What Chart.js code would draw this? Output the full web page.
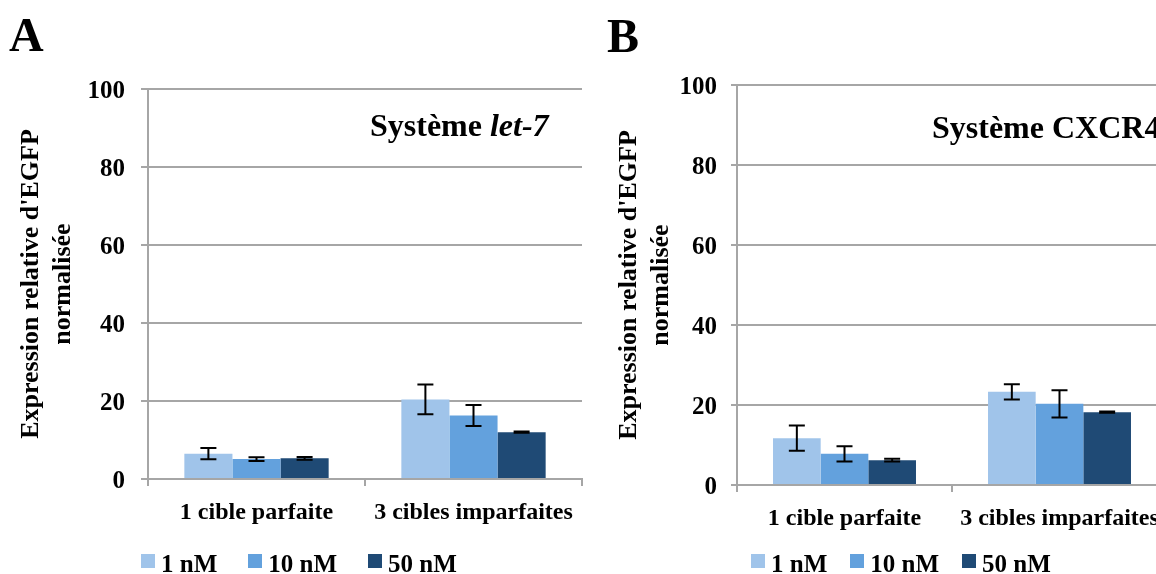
<!DOCTYPE html>
<html>
<head>
<meta charset="utf-8">
<script src="https://cdn.jsdelivr.net/npm/chart.js@4/dist/chart.umd.min.js"></script>
<style>
  html, body { margin: 0; padding: 0; background: #fff; }
  body { width: 1156px; height: 574px; overflow: hidden; position: relative; font-family: 'Liberation Serif', 'Times New Roman', serif; font-weight: bold; color: #000; }
  canvas { position: absolute; top: 0; }
  .panel { position: absolute; font-size: 48px; line-height: 48px; }
  .note { position: absolute; font-size: 32px; line-height: 32px; white-space: nowrap; }
  .legend { position: absolute; top: 551px; display: flex; align-items: flex-start; font-size: 25px; line-height: 25px; white-space: nowrap; }
  .legend .box { width: 14px; height: 14px; margin-top: 3px; }
  .legend .txt { margin-left: 6px; }
</style>
</head>
<body>
<canvas id="chartA" width="604" height="574" style="left:0px;width:604px;height:574px"></canvas>
<canvas id="chartB" width="626" height="574" style="left:590px;width:626px;height:574px"></canvas>
<div class="panel" style="left:9px;top:11px">A</div>
<div class="panel" style="left:607px;top:12px">B</div>
<div class="note" style="left:370px;top:109px">Système <i>let-7</i></div>
<div class="note" style="left:932px;top:111px">Système CXCR4</div>
<div class="legend" id="legendA" style="left:141px"></div>
<div class="legend" id="legendB" style="left:751px"></div>
<script>
// ---- data ----
const categories = ['1 cible parfaite', '3 cibles imparfaites'];
const seriesLabels = ['1 nM', '10 nM', '50 nM'];
const seriesColors = ['#A0C4EA', '#63A1DD', '#1F4A75'];
const yTicks = [0, 20, 40, 60, 80, 100];
const yTitle = ["Expression relative d'EGFP", 'normalisée'];

// Panel A : Système let-7
const a1nM = [6.5, 20.4];
const a1nMErr = [1.45, 3.8];
const a10nM = [5.1, 16.3];
const a10nMErr = [0.5, 2.7];
const a50nM = [5.3, 12.0];
const a50nMErr = [0.35, 0.15];

// Panel B : Système CXCR4
const b1nM = [11.7, 23.3];
const b1nMErr = [3.15, 1.9];
const b10nM = [7.8, 20.3];
const b10nMErr = [1.9, 3.4];
const b50nM = [6.2, 18.2];
const b50nMErr = [0.35, 0.15];

const FONT = "'Liberation Serif', 'Times New Roman', serif";
const GRID = '#a6a6a6';

const errorBars = {
  id: 'errorBars',
  afterDatasetsDraw(chart) {
    const ctx = chart.ctx;
    const y = chart.scales.y;
    ctx.save();
    ctx.strokeStyle = '#000';
    ctx.lineWidth = 2;
    chart.data.datasets.forEach((ds, i) => {
      const meta = chart.getDatasetMeta(i);
      meta.data.forEach((bar, j) => {
        const v = ds.data[j], e = ds.errors[j];
        const yt = y.getPixelForValue(v + e);
        const yb = y.getPixelForValue(v - e);
        const x = bar.x;
        ctx.beginPath();
        ctx.moveTo(x, yt); ctx.lineTo(x, yb);
        ctx.moveTo(x - 8, yt); ctx.lineTo(x + 8, yt);
        ctx.moveTo(x - 8, yb); ctx.lineTo(x + 8, yb);
        ctx.stroke();
      });
    });
    ctx.restore();
  }
};

function makeChart(id, vals, errs, geo) {
  const datasets = seriesLabels.map((lab, i) => ({
    label: lab,
    data: vals[i],
    errors: errs[i],
    backgroundColor: seriesColors[i],
    borderWidth: 0,
    barPercentage: 1.0,
    categoryPercentage: 0.665
  }));
  return new Chart(document.getElementById(id), {
    type: 'bar',
    data: { labels: categories, datasets },
    plugins: [errorBars],
    options: {
      responsive: false,
      animation: false,
      devicePixelRatio: 1,
      layout: { padding: { top: geo.top, right: geo.right, bottom: 0, left: 0 } },
      plugins: { legend: { display: false }, tooltip: { enabled: false } },
      scales: {
        x: {
          grid: { drawOnChartArea: false, drawTicks: true, tickLength: 7, color: GRID, lineWidth: 2, offset: true },
          border: { display: true, color: GRID, width: 2 },
          ticks: { color: '#000', font: { family: FONT, size: 24, weight: 'bold' }, padding: geo.xPad, maxRotation: 0, autoSkip: false },
          afterFit: (s) => { s.height = geo.xHeight; }
        },
        y: {
          min: 0, max: 100,
          afterBuildTicks: (s) => { s.ticks = yTicks.map(v => ({ value: v })); },
          grid: { color: GRID, lineWidth: 2, drawTicks: true, tickLength: geo.tick },
          border: { display: true, color: GRID, width: 2 },
          ticks: { color: '#000', font: { family: FONT, size: 25, weight: 'bold' }, padding: geo.yPad, labelOffset: 3 },
          title: {
            display: true, text: yTitle, color: '#000',
            font: { family: FONT, size: 26, weight: 'bold', lineHeight: 1.25 },
            padding: { top: geo.titlePad, bottom: 0 }
          },
          afterFit: (s) => { s.width = geo.yWidth; }
        }
      }
    }
  });
}

makeChart('chartA', [a1nM, a10nM, a50nM], [a1nMErr, a10nMErr, a50nMErr],
  { top: 89, right: 22, xHeight: 95, yWidth: 148, tick: 7, yPad: 16, titlePad: 15, xPad: 12 });
makeChart('chartB', [b1nM, b10nM, b50nM], [b1nMErr, b10nMErr, b50nMErr],
  { top: 85, right: 49, xHeight: 89, yWidth: 147, tick: 6, yPad: 14, titlePad: 23, xPad: 12 });

function buildLegend(id, gap) {
  const el = document.getElementById(id);
  seriesLabels.forEach((lab, i) => {
    const box = document.createElement('span');
    box.className = 'box';
    box.style.background = seriesColors[i];
    if (i > 0) box.style.marginLeft = gap + 'px';
    const t = document.createElement('span');
    t.className = 'txt';
    t.textContent = lab;
    el.appendChild(box); el.appendChild(t);
  });
}
buildLegend('legendA', 31);
buildLegend('legendB', 23);
</script>
</body>
</html>
